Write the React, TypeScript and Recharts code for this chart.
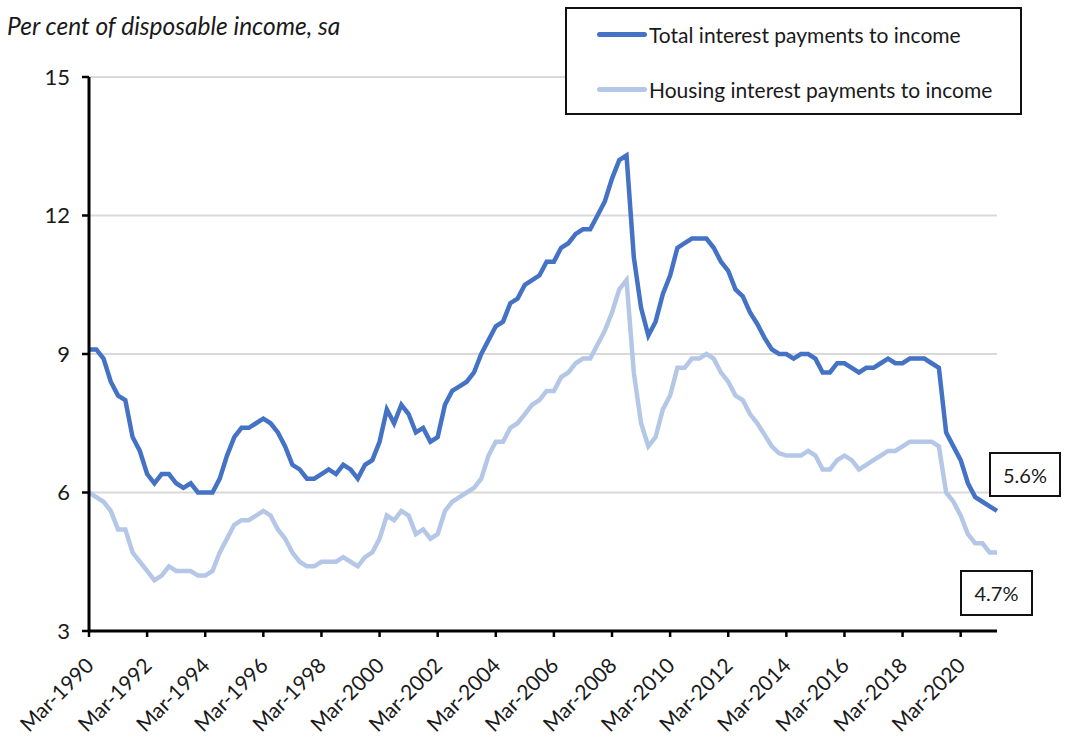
import { LineChart, Line, XAxis, YAxis, CartesianGrid } from 'recharts';

const FONT = "Lato, 'Open Sans', sans-serif";

const MONTHS = ['Mar', 'Jun', 'Sep', 'Dec'];

const tickLabels = [
  'Mar-1990', 'Mar-1992', 'Mar-1994', 'Mar-1996', 'Mar-1998', 'Mar-2000', 'Mar-2002', 'Mar-2004',
  'Mar-2006', 'Mar-2008', 'Mar-2010', 'Mar-2012', 'Mar-2014', 'Mar-2016', 'Mar-2018', 'Mar-2020',
];

const yTicks = [3, 6, 9, 12, 15];

// quarterly, Mar-1990 .. Jun-2021
const totalPayments = [
  9.1, 9.1, 8.9, 8.4, 8.1, 8.0, 7.2, 6.9, 6.4, 6.2, 6.4, 6.4, 6.2, 6.1, 6.2, 6.0,
  6.0, 6.0, 6.3, 6.8, 7.2, 7.4, 7.4, 7.5, 7.6, 7.5, 7.3, 7.0, 6.6, 6.5, 6.3, 6.3,
  6.4, 6.5, 6.4, 6.6, 6.5, 6.3, 6.6, 6.7, 7.1, 7.8, 7.5, 7.9, 7.7, 7.3, 7.4, 7.1,
  7.2, 7.9, 8.2, 8.3, 8.4, 8.6, 9.0, 9.3, 9.6, 9.7, 10.1, 10.2, 10.5, 10.6, 10.7, 11.0,
  11.0, 11.3, 11.4, 11.6, 11.7, 11.7, 12.0, 12.3, 12.8, 13.2, 13.3, 11.1, 10.0, 9.4, 9.7, 10.3,
  10.7, 11.3, 11.4, 11.5, 11.5, 11.5, 11.3, 11.0, 10.8, 10.4, 10.25, 9.9, 9.65, 9.35, 9.1, 9.0,
  9.0, 8.9, 9.0, 9.0, 8.9, 8.6, 8.6, 8.8, 8.8, 8.7, 8.6, 8.7, 8.7, 8.8, 8.9, 8.8,
  8.8, 8.9, 8.9, 8.9, 8.8, 8.7, 7.3, 7.0, 6.7, 6.2, 5.9, 5.8, 5.7, 5.6,
];

const housingPayments = [
  6.0, 5.9, 5.8, 5.6, 5.2, 5.2, 4.7, 4.5, 4.3, 4.1, 4.2, 4.4, 4.3, 4.3, 4.3, 4.2,
  4.2, 4.3, 4.7, 5.0, 5.3, 5.4, 5.4, 5.5, 5.6, 5.5, 5.2, 5.0, 4.7, 4.5, 4.4, 4.4,
  4.5, 4.5, 4.5, 4.6, 4.5, 4.4, 4.6, 4.7, 5.0, 5.5, 5.4, 5.6, 5.5, 5.1, 5.2, 5.0,
  5.1, 5.6, 5.8, 5.9, 6.0, 6.1, 6.3, 6.8, 7.1, 7.1, 7.4, 7.5, 7.7, 7.9, 8.0, 8.2,
  8.2, 8.5, 8.6, 8.8, 8.9, 8.9, 9.2, 9.5, 9.9, 10.4, 10.6, 8.6, 7.5, 7.0, 7.2, 7.8,
  8.1, 8.7, 8.7, 8.9, 8.9, 9.0, 8.9, 8.6, 8.4, 8.1, 8.0, 7.7, 7.5, 7.25, 7.0, 6.85,
  6.8, 6.8, 6.8, 6.9, 6.8, 6.5, 6.5, 6.7, 6.8, 6.7, 6.5, 6.6, 6.7, 6.8, 6.9, 6.9,
  7.0, 7.1, 7.1, 7.1, 7.1, 7.0, 6.0, 5.8, 5.5, 5.1, 4.9, 4.9, 4.7, 4.7,
];

const quarters = totalPayments.map((_, i) => `${MONTHS[i % 4]}-${1990 + Math.floor(i / 4)}`);

const data = quarters.map((q, i) => ({
  quarter: q,
  total: totalPayments[i],
  housing: housingPayments[i],
}));

const TOTAL_COLOR = '#4472C4';
const HOUSING_COLOR = '#B4C7E7';
const TEXT = '#1a1a1a';

function XTick({ x, y, payload }: any) {
  const ax = x + 6;
  const ay = y + 28;
  return (
    <text
      x={ax}
      y={ay}
      transform={`rotate(-45 ${ax} ${ay})`}
      textAnchor="end"
      fontFamily={FONT}
      fontSize={21}
      fill={TEXT}
    >
      {payload.value}
    </text>
  );
}

const legendItems = [
  { label: 'Total interest payments to income', color: TOTAL_COLOR },
  { label: 'Housing interest payments to income', color: HOUSING_COLOR },
];

const boxStyle = {
  position: 'absolute' as const,
  border: '2px solid #111',
  background: '#fff',
  fontFamily: FONT,
  fontSize: 20,
  color: TEXT,
  display: 'flex',
  alignItems: 'center',
  justifyContent: 'center',
  boxSizing: 'border-box' as const,
};

export default function App() {
  return (
    <div style={{ position: 'fixed', left: 0, top: 0, width: 1071, height: 747, background: '#fff' }}>
      <LineChart
        width={1071}
        height={747}
        data={data}
        margin={{ top: 77, right: 74, bottom: 0, left: 0 }}
      >
        <CartesianGrid vertical={false} stroke="#d9d9d9" strokeWidth={2} />
        <XAxis
          dataKey="quarter"
          ticks={tickLabels}
          interval={0}
          height={116}
          tick={<XTick />}
          tickSize={6}
          axisLine={{ stroke: '#000', strokeWidth: 3 }}
          tickLine={{ stroke: '#000', strokeWidth: 2.5 }}
        />
        <YAxis
          type="number"
          domain={[3, 15]}
          ticks={yTicks}
          interval={0}
          width={89}
          tickSize={7}
          tickMargin={12}
          axisLine={{ stroke: '#000', strokeWidth: 3 }}
          tickLine={{ stroke: '#000', strokeWidth: 2.5 }}
          tick={{ fontFamily: FONT, fontSize: 22, fill: TEXT }}
        />
        <Line
          type="linear"
          dataKey="housing"
          stroke={HOUSING_COLOR}
          strokeWidth={4.5}
          dot={false}
          isAnimationActive={false}
        />
        <Line
          type="linear"
          dataKey="total"
          stroke={TOTAL_COLOR}
          strokeWidth={4.5}
          dot={false}
          isAnimationActive={false}
        />
      </LineChart>
      <div
        style={{
          position: 'absolute',
          left: 7,
          top: 11,
          fontFamily: FONT,
          fontStyle: 'italic',
          fontSize: 24.5,
          color: TEXT,
          whiteSpace: 'nowrap',
        }}
      >
        Per cent of disposable income, sa
      </div>
      <div
        style={{
          position: 'absolute',
          left: 565,
          top: 7,
          width: 457,
          height: 108,
          border: '2px solid #111',
          background: '#fff',
          boxSizing: 'border-box',
          fontFamily: FONT,
          fontSize: 21,
          color: TEXT,
        }}
      >
        {legendItems.map((it, k) => (
          <div
            key={it.label}
            style={{ display: 'flex', alignItems: 'center', height: 28, marginTop: k === 0 ? 11 : 27, marginLeft: 30 }}
          >
            <span style={{ display: 'inline-block', width: 50, height: 5, borderRadius: 3, background: it.color }} />
            <span style={{ marginLeft: 2, whiteSpace: 'nowrap' }}>{it.label}</span>
          </div>
        ))}
      </div>
      <div style={{ ...boxStyle, left: 989, top: 452, width: 72, height: 45 }}>5.6%</div>
      <div style={{ ...boxStyle, left: 960, top: 570, width: 73, height: 46 }}>4.7%</div>
    </div>
  );
}
